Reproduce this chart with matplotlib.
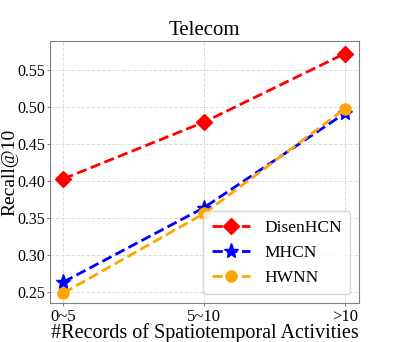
import matplotlib
matplotlib.use("Agg")
import matplotlib.pyplot as plt

categories = ["0~5", "5~10", ">10"]
disenhcn = [0.403, 0.480, 0.573]
mhcn = [0.263, 0.364, 0.492]
hwnn = [0.248, 0.356, 0.498]

plt.rcParams['font.family'] = ['Liberation Serif', 'DejaVu Serif']

fig = plt.figure(figsize=(3.99, 3.42), dpi=100)
ax = fig.add_axes([50/399, 1-303/342, 309/399, 262/342])
x = list(range(len(categories)))
ax.plot(x, disenhcn, color='red', linestyle='--', marker='D', markersize=8, linewidth=2, label='DisenHCN')
ax.plot(x, mhcn, color='blue', linestyle='--', marker='*', markersize=11, linewidth=2, label='MHCN')
ax.plot(x, hwnn, color='orange', linestyle='--', marker='o', markersize=8, linewidth=2, label='HWNN')
ax.set_xticks(x)
ax.set_xticklabels(categories, fontsize=12)
ax.set_yticks([0.25, 0.30, 0.35, 0.40, 0.45, 0.50, 0.55])
ax.set_yticklabels(["0.25", "0.30", "0.35", "0.40", "0.45", "0.50", "0.55"], fontsize=11.5)
ax.set_xlim(-0.095, 2.1)
ax.set_ylim(0.2345, 0.59)
ax.grid(True, linestyle='--', color='#dddddd', linewidth=0.7)
for s in ax.spines.values():
    s.set_color('gray')
ax.tick_params(length=2, color='gray', pad=2)
ax.tick_params(axis='y', pad=1.5)
ax.set_title("Telecom", fontsize=15, pad=4)
ax.set_xlabel("#Records of Spatiotemporal Activities", fontsize=14.5, labelpad=-1)
ax.set_ylabel("Recall@10", fontsize=14)
ax.yaxis.set_label_coords(-32/309, 0.5)
ax.legend(loc='lower right', fontsize=12.5, handlelength=2.2, borderpad=0.5, labelspacing=0.5)
fig.savefig("out.png", dpi=100)
